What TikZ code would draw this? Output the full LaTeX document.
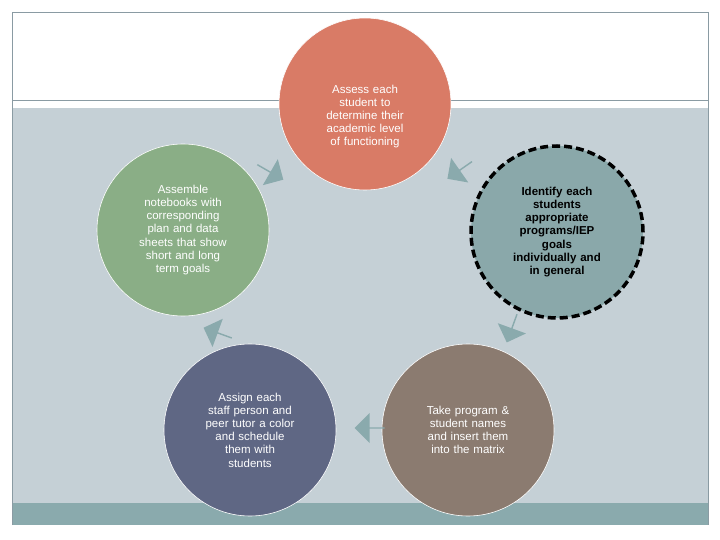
\documentclass[tikz,border=0pt]{standalone}
\usepackage{fontspec}
\setmainfont{Liberation Sans}
\usetikzlibrary{shapes.arrows}
\definecolor{band}{HTML}{C5D0D6}
\definecolor{teal}{HTML}{8AAAAD}
\definecolor{frame}{HTML}{8A9BA3}
\definecolor{corange}{HTML}{D97B66}
\definecolor{cgreen}{HTML}{8AAE86}
\definecolor{cright}{HTML}{8AA8AA}
\definecolor{cslate}{HTML}{5F6784}
\definecolor{ctaupe}{HTML}{8B7B70}
\tikzset{
 circ/.style={circle,minimum size=172pt,inner sep=0pt,draw=white,line width=0.6pt,align=center,text=white,font=\fontsize{11.5}{13.2}\selectfont,text width=125pt},
 blk/.style={single arrow,fill=teal,minimum height=30pt,minimum width=30pt,single arrow head extend=4pt,inner sep=0pt,draw=none}
}
\begin{document}
\begin{tikzpicture}[x=1pt,y=-1pt]
\useasboundingbox (0,0) rectangle (720,540);
\fill[white] (0,0) rectangle (720,540);
\fill[band] (12,108) rectangle (708,525);
\fill[teal] (12,503) rectangle (708,525);
\draw[frame,line width=0.8pt] (12,525) -- (12,12) -- (708,12) -- (708,525);
\draw[frame,line width=0.8pt] (12,100) -- (708,100);
\node[circ,fill=corange] (a) at (365,104) {\\[20pt]Assess each\\student to\\determine their\\academic level\\of functioning};
\node[circ,fill=cright,draw=black,line width=3.5pt,dash pattern=on 8pt off 4pt,text=black,font=\fontsize{11.5}{13.2}\selectfont\bfseries] (b) at (557,232) {Identify each\\students\\appropriate\\programs/IEP\\goals\\individually and\\in general};
\node[circ,fill=ctaupe] (c) at (468,430) {Take program \&\\student names\\and insert them\\into the matrix\\[10pt]};
\node[circ,fill=cslate] (d) at (250,430) {Assign each\\staff person and\\peer tutor a color\\and schedule\\them with\\students};
\node[circ,fill=cgreen] (e) at (183,230) {Assemble\\notebooks with\\corresponding\\plan and data\\sheets that show\\short and long\\term goals};
\node[blk,rotate=-30] (ar1) at (270,172) {};
\node[blk,rotate=-145] (ar2) at (460,170) {};
\node[blk,rotate=-110+360] (ar3) at (512,328) {};
\node[blk,rotate=180] (ar4) at (370,428) {};
\node[blk,rotate=160] (ar5) at (218,333) {};
\end{tikzpicture}
\end{document}
